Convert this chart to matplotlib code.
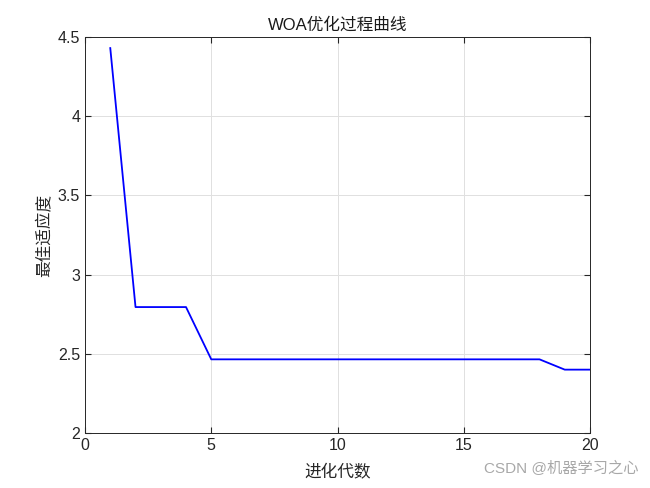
import numpy as np
import matplotlib
matplotlib.use("Agg")
import matplotlib.pyplot as plt

plt.rcParams['font.family'] = ['Liberation Sans', 'Noto Sans CJK SC', 'DejaVu Sans']

# Data
generations = list(range(1, 21))
best_fitness = [4.43, 2.795, 2.795, 2.795, 2.465, 2.465, 2.465, 2.465, 2.465, 2.465,
                2.465, 2.465, 2.465, 2.465, 2.465, 2.465, 2.465, 2.465, 2.40, 2.40]
x_ticks = [0, 5, 10, 15, 20]
y_ticks = [2, 2.5, 3, 3.5, 4, 4.5]

fig = plt.figure(figsize=(6.5, 4.88), dpi=100)
ax = fig.add_axes([0.1308, 0.1127, 0.7769, 0.8115])

ax.plot(generations, best_fitness, color='#0000ff', linewidth=1.3)

ax.set_xlim(0, 20)
ax.set_ylim(2, 4.5)
ax.set_xticks(x_ticks)
ax.set_yticks(y_ticks)
ax.set_yticklabels(['2', '2.5', '3', '3.5', '4', '4.5'])
ax.grid(True, color='#e0e0e0', linewidth=0.7)
ax.set_axisbelow(True)
ax.tick_params(direction='in', top=True, right=True, labelsize=11.5, length=4,
               color='#262626', labelcolor='#262626')
for s in ax.spines.values():
    s.set_color('#262626')
    s.set_linewidth(0.7)

ax.set_title('WOA优化过程曲线', fontsize=12, color='#1a1a1a', pad=5)
ax.set_xlabel('进化代数', fontsize=12, color='#262626', labelpad=8)
ax.set_ylabel('最佳适应度', fontsize=12, color='#262626', labelpad=4)

fig.text(0.983, 0.025, 'CSDN @机器学习之心', ha='right', va='bottom',
         fontsize=11, color='#a8a8a8')

fig.savefig('out.png', dpi=100)
